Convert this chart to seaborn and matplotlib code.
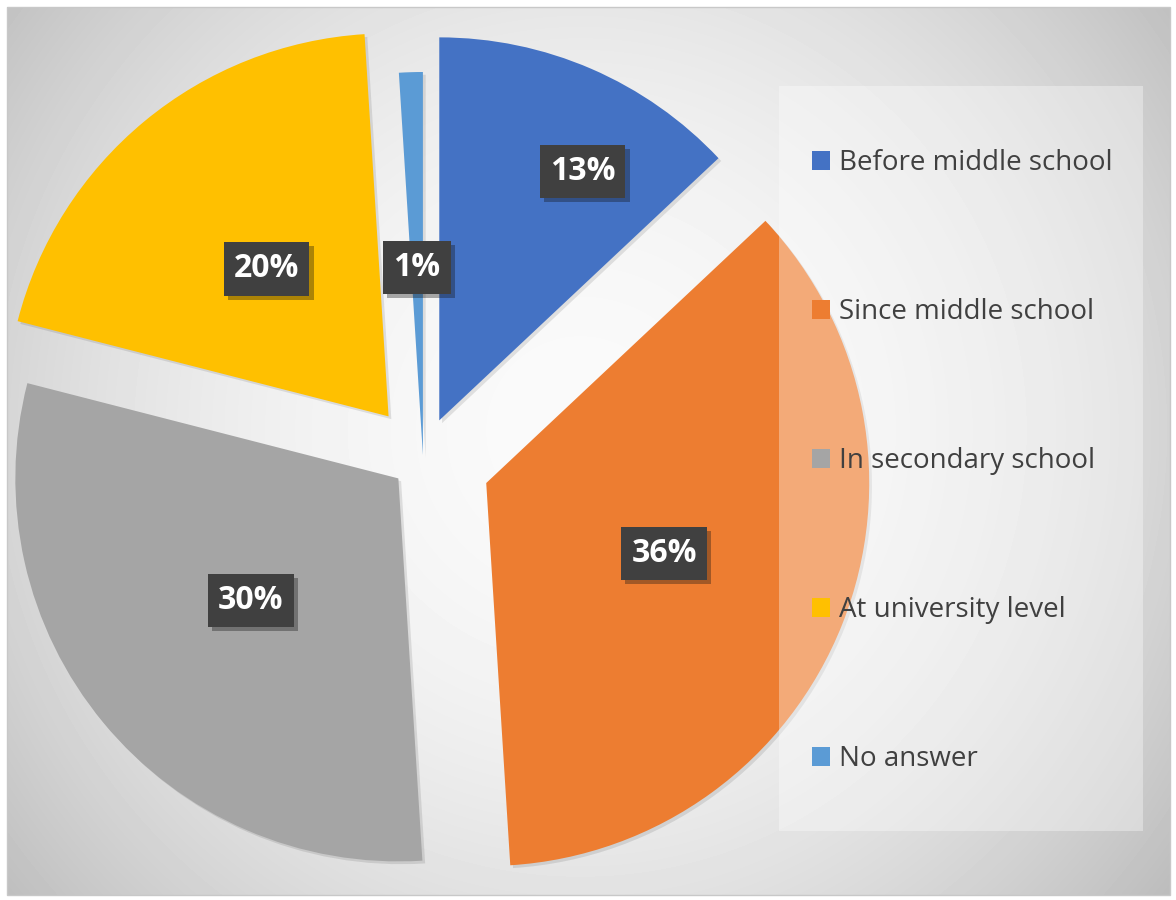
import numpy as np
import matplotlib
matplotlib.use("Agg")
import matplotlib.pyplot as plt
import matplotlib.patheffects as pe
from matplotlib.patches import Patch, Rectangle
import seaborn as sns

# survey shares (percent)
categories = ["Before middle school", "Since middle school", "In secondary school",
              "At university level", "No answer"]
shares = [13, 36, 30, 20, 1]
pct_labels = ["13%", "36%", "30%", "20%", "1%"]
slice_colors = ["#4472C4", "#ED7D31", "#A5A5A5", "#FFC000", "#5B9BD5"]

# slice offsets (px) and label placement tweaks
explode = [41, 68, 32, 54, 3]
label_dist = [0.75, 0.5, 0.5, 0.5, 0.49]
label_shift = [-6.5, 0, 0, 0, 0]

sns.set_style("white")
plt.rcParams['font.family'] = ['Open Sans', 'DejaVu Sans']

W, H = 1176, 900
fig = plt.figure(figsize=(W / 100, H / 100), dpi=100)
ax = fig.add_axes([0, 0, 1, 1])

# radial grey background of the chart area
x0, x1, y0, y1 = 7, 1170, 7, 895
yy, xx = np.mgrid[y0:y1, x0:x1]
d = np.hypot(xx - 580, yy - 430)
shade = np.clip(250 - 57 * (d / 720) ** 2, 185, 251) / 255
ax.imshow(shade, cmap='gray', vmin=0, vmax=1, extent=(x0, x1, H - y1, H - y0),
          origin='upper', zorder=0, interpolation='bilinear')
ax.add_patch(Rectangle((x0, H - y1), x1 - x0, y1 - y0, fill=False,
                       edgecolor='#c8c8c8', lw=1, zorder=0.5))

# pie
wedges, _ = ax.pie(shares, explode=explode, colors=slice_colors, startangle=90,
                   counterclock=False, radius=383, center=(423, H - 458),
                   wedgeprops=dict(linewidth=0))
for w in wedges:
    w.set_zorder(1)
    w.set_path_effects([pe.SimplePatchShadow(offset=(2, -2), shadow_rgbFace='k', alpha=0.1),
                        pe.Normal()])

# data labels in dark boxes
for i, w in enumerate(wedges):
    th = np.deg2rad((w.theta1 + w.theta2) / 2 + label_shift[i])
    r = w.r * label_dist[i]
    tx = w.center[0] + r * np.cos(th)
    ty = w.center[1] + r * np.sin(th)
    t = ax.text(tx, ty, pct_labels[i], ha='center', va='center', fontsize=23,
                fontweight='bold', color='white', zorder=6,
                bbox=dict(boxstyle='square,pad=0.32', facecolor='#404040', edgecolor='none'))
    t.get_bbox_patch().set_path_effects([pe.SimplePatchShadow(offset=(3, -3), alpha=0.35),
                                         pe.Normal()])

# legend panel
ax.add_patch(Rectangle((779, H - 831), 1143 - 779, 831 - 86, facecolor='white',
                       alpha=0.35, edgecolor='none', zorder=3))
handles = [Patch(facecolor=c, edgecolor='none') for c in slice_colors]
ax.legend(handles, categories, loc='upper left', bbox_to_anchor=(812 / W, 1 - 149 / H),
          frameon=False, fontsize=20, labelspacing=4.355, handlelength=0.66,
          handleheight=0.66, handletextpad=0.3, borderpad=0, borderaxespad=0,
          labelcolor='#404040')

ax.set_xlim(0, W)
ax.set_ylim(0, H)
ax.set_aspect('equal')
ax.axis('off')

fig.savefig('out.png', dpi=100, facecolor='white')
